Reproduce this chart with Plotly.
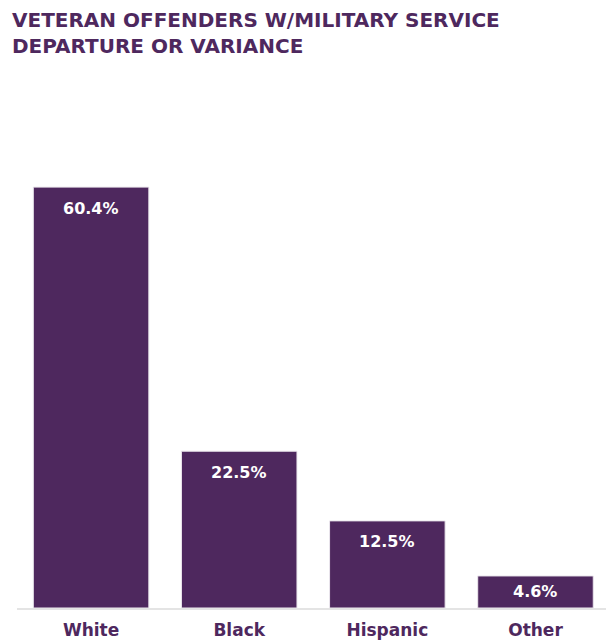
import plotly.graph_objects as go

categories = ["White", "Black", "Hispanic", "Other"]
shares = [60.4, 22.5, 12.5, 4.6]
value_labels = ["60.4%", "22.5%", "12.5%", "4.6%"]

PURPLE = "#4e285e"
FONT = "DejaVu Sans"

fig = go.Figure(
    go.Bar(
        x=categories,
        y=shares,
        marker=dict(color=PURPLE, line=dict(color="#ece8ee", width=1)),
        width=0.78,
        hoverinfo="skip",
    )
)

# value labels near the top of each bar; short bars get the label centred
for cat, val, lab in zip(categories, shares, value_labels):
    fig.add_annotation(
        x=cat, y=max(val - 3.0, val / 2), text=lab, showarrow=False,
        yanchor="middle",
        font=dict(family=FONT, size=16, color="white", weight="bold"),
    )

fig.add_annotation(
    xref="paper", yref="paper", x=-0.012, y=1.0, yshift=94,
    xanchor="left", yanchor="top", align="left", showarrow=False,
    text="VETERAN OFFENDERS W/MILITARY SERVICE<br>DEPARTURE OR VARIANCE",
    font=dict(family=FONT, size=20, color=PURPLE, weight="bold"),
)

fig.update_layout(
    width=606, height=641,
    margin=dict(l=17, r=0, t=100, b=33),
    paper_bgcolor="white", plot_bgcolor="white",
    showlegend=False,
    xaxis=dict(
        range=[-0.5, 3.476],
        showline=True, linecolor="#e4e4e4", linewidth=2,
        showgrid=False, ticks="", ticklabelstandoff=6,
        tickfont=dict(family=FONT, size=17, color=PURPLE, weight="bold"),
    ),
    yaxis=dict(range=[0, 72.9], visible=False, showgrid=False),
)

fig.write_html("out.html")
